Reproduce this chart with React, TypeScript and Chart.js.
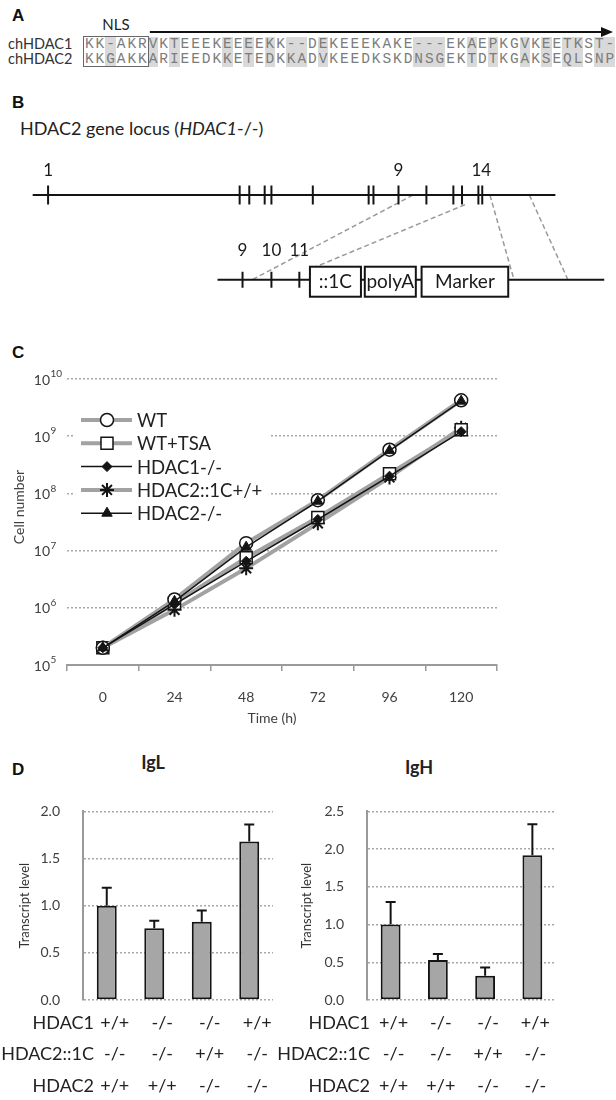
import React, { useEffect, useRef } from 'react';
import { Chart, registerables, PointElement } from 'chart.js';

Chart.register(...registerables);

const SANS = 'Lato, "Open Sans", sans-serif';
const MONO = '"Liberation Mono", "DejaVu Sans Mono", monospace';
const LETTER = '"Liberation Sans", Arial, sans-serif';
Chart.defaults.font.family = SANS;
Chart.defaults.color = '#404040';

const INK = '#141414';
const LINE_GRAY = '#a2a2a2';
const BAR_GRAY = '#a6a6a6';
const GRID_GRAY = '#a8a8a8';

// ---------------- Panel A: sequence alignment ----------------
const seqNames = ['chHDAC1', 'chHDAC2'];
const seqHDAC1 = 'KK-AKRVKTEEEKEEEEKK--DEKEEEKAKE---EKAEPKGVKEETKST-';
const seqHDAC2 = 'KKGAKKARIEEDKKETEDKKADVKEEDKSKDNSGEKTDTKGAKSEQLSNP';
const nlsResidueCount = 6;
const shadedColumns = [2, 6, 8, 13, 15, 17, 19, 20, 22, 31, 32, 33, 36, 38, 41, 43, 45, 46, 48, 49];

// ---------------- Panel B: gene locus schematic ----------------
const LOCUS_LEVEL = 50;
const TARGET_LEVEL = 147;
const locusSpan = [22, 565];
const locusExons = [38, 237, 247, 263, 270, 313, 371, 376, 402, 431, 459, 468, 485, 489];
const locusExonLabels = ['1', '9', '14'];
const locusExonLabelAt = [38, 402, 488];
const targetSpan = [214, 616];
const targetExons = [240, 270, 299];
const targetExonLabels = ['9', '10', '11'];
const cassetteNames = ['::1C', 'polyA', 'Marker'];
const cassetteStarts = [310, 367, 426];
const cassetteEnds = [363, 420, 516];
const homologyStartX = [417, 471, 497, 538];
const homologyStartLevel = [50, 61, 50, 50];
const homologyEndX = [250, 312, 522, 578];
const homologyEndLevel = [147, 134, 147, 147];

// ---------------- Panel C: growth curves ----------------
const timeLabels = ['0', '24', '48', '72', '96', '120'];
const wtCells = [2.0e5, 1.4e6, 1.35e7, 7.6e7, 5.8e8, 4.25e9];
const wtTsaCells = [2.0e5, 1.2e6, 7.5e6, 3.8e7, 2.2e8, 1.3e9];
const hdac1KoCells = [2.0e5, 1.15e6, 6.5e6, 3.5e7, 2.0e8, 1.2e9];
const hdac2OneCCells = [2.0e5, 9.2e5, 4.9e6, 3.0e7, 1.9e8, 1.4e9];
const hdac2KoCells = [2.0e5, 1.3e6, 1.15e7, 7.3e7, 5.6e8, 4.1e9];
const cellTickValues = [1e5, 1e6, 1e7, 1e8, 1e9, 1e10];
const cellTickExponents = ['5', '6', '7', '8', '9', '10'];

// ---------------- Panel D: transcript levels ----------------
const genotypeRowNames = ['HDAC1', 'HDAC2::1C', 'HDAC2'];
const hdac1Genotype = ['+/+', '-/-', '-/-', '+/+'];
const hdac2OneCGenotype = ['-/-', '-/-', '+/+', '-/-'];
const hdac2Genotype = ['+/+', '+/+', '-/-', '-/-'];
const iglLevels = [1.0, 0.76, 0.83, 1.68];
const iglErrors = [0.19, 0.08, 0.12, 0.18];
const ighLevels = [1.0, 0.53, 0.32, 1.92];
const ighErrors = [0.30, 0.08, 0.11, 0.41];

// ---------------- helpers ----------------
function Txt({ x, y, size, children, bold = false, anchor = 'start', family = SANS, color = '#222' }: any) {
  const tx = anchor === 'middle' ? '-50%' : anchor === 'end' ? '-100%' : '0';
  return (
    <div
      style={{
        position: 'absolute', left: x, top: y, transform: `translate(${tx},-50%)`,
        fontSize: size, lineHeight: 1, fontFamily: family, fontWeight: bold ? 700 : 400,
        color, whiteSpace: 'nowrap',
      }}
    >
      {children}
    </div>
  );
}

function ChartCanvas({ left, top, width, height, build }: any) {
  const ref = useRef<HTMLCanvasElement>(null);
  useEffect(() => {
    const chart = new Chart(ref.current as HTMLCanvasElement, build());
    return () => chart.destroy();
  }, []);
  return (
    <canvas
      ref={ref}
      width={width}
      height={height}
      style={{ position: 'absolute', left, top, width, height, display: 'block' }}
    />
  );
}

// ---------------- Panel B config ----------------
function buildLocus(): any {
  const datasets: any[] = [];
  homologyStartX.forEach((sx, i) => {
    datasets.push({
      type: 'line',
      data: [{ x: sx, y: homologyStartLevel[i] }, { x: homologyEndX[i], y: homologyEndLevel[i] }],
      borderColor: '#9a9a9a', borderWidth: 1.5, borderDash: [5, 3], pointRadius: 0, order: 4,
    });
  });
  datasets.push({
    type: 'line',
    data: [{ x: locusSpan[0], y: LOCUS_LEVEL }, { x: locusSpan[1], y: LOCUS_LEVEL }],
    borderColor: INK, borderWidth: 2, pointRadius: 0, order: 3,
  });
  datasets.push({
    type: 'line',
    data: [{ x: targetSpan[0], y: TARGET_LEVEL }, { x: targetSpan[1], y: TARGET_LEVEL }],
    borderColor: INK, borderWidth: 2, pointRadius: 0, order: 3,
  });
  datasets.push({
    type: 'scatter',
    data: locusExons.map((x) => ({ x, y: LOCUS_LEVEL })),
    pointStyle: 'line', pointRotation: 90, pointRadius: 9.5, pointBorderWidth: 2,
    pointBorderColor: INK, borderColor: INK, order: 1,
  });
  datasets.push({
    type: 'scatter',
    data: targetExons.map((x) => ({ x, y: TARGET_LEVEL })),
    pointStyle: 'line', pointRotation: 90, pointRadius: 8, pointBorderWidth: 2,
    pointBorderColor: INK, borderColor: INK, order: 1,
  });
  const decor = {
    id: 'locusDecor',
    afterDatasetsDraw(chart: any) {
      const { ctx, scales } = chart;
      const xs = scales.x, ys = scales.y;
      ctx.save();
      const yc = ys.getPixelForValue(TARGET_LEVEL);
      cassetteNames.forEach((name, i) => {
        const x1 = xs.getPixelForValue(cassetteStarts[i]);
        const x2 = xs.getPixelForValue(cassetteEnds[i]);
        ctx.fillStyle = '#fff';
        ctx.fillRect(x1, yc - 13, x2 - x1, 30);
        ctx.strokeStyle = INK;
        ctx.lineWidth = 2;
        ctx.strokeRect(x1, yc - 13, x2 - x1, 30);
        ctx.fillStyle = '#1a1a1a';
        ctx.font = `19px ${SANS}`;
        ctx.textAlign = 'center';
        ctx.textBaseline = 'middle';
        ctx.fillText(name, (x1 + x2) / 2, yc + 2.5);
      });
      ctx.font = `17px ${SANS}`;
      ctx.fillStyle = '#1a1a1a';
      locusExonLabels.forEach((t, i) => {
        ctx.fillText(t, xs.getPixelForValue(locusExonLabelAt[i]), ys.getPixelForValue(LOCUS_LEVEL) - 25);
      });
      targetExonLabels.forEach((t, i) => {
        ctx.fillText(t, xs.getPixelForValue(targetExons[i]), ys.getPixelForValue(TARGET_LEVEL) - 29);
      });
      ctx.restore();
    },
  };
  return {
    type: 'scatter',
    data: { datasets },
    options: {
      responsive: false, animation: false, events: [],
      layout: { padding: 0 },
      scales: {
        x: { type: 'linear', display: false, min: 0, max: 616 },
        y: { type: 'linear', display: false, min: 0, max: 180, reverse: true },
      },
      plugins: { legend: { display: false }, tooltip: { enabled: false } },
    },
    plugins: [decor],
  };
}

// ---------------- Panel C config ----------------
function buildGrowth(): any {
  const datasets = [
    {
      label: 'WT', data: wtCells, borderColor: LINE_GRAY, borderWidth: 4,
      pointStyle: 'circle', pointRadius: 6.5, pointBackgroundColor: '#fff',
      pointBorderColor: INK, pointBorderWidth: 1.5, order: 2,
    },
    {
      label: 'WT+TSA', data: wtTsaCells, borderColor: LINE_GRAY, borderWidth: 4,
      pointStyle: 'rect', pointRadius: 8.5, pointBackgroundColor: '#fff',
      pointBorderColor: INK, pointBorderWidth: 1.5, order: 2,
    },
    {
      label: 'HDAC1-/-', data: hdac1KoCells, borderColor: INK, borderWidth: 1.5,
      pointStyle: 'rectRot', pointRadius: 5, pointBackgroundColor: INK,
      pointBorderColor: INK, pointBorderWidth: 1, order: 1,
    },
    {
      label: 'HDAC2::1C+/+', data: hdac2OneCCells, borderColor: LINE_GRAY, borderWidth: 4,
      pointStyle: 'star', pointRadius: 7, pointBackgroundColor: INK,
      pointBorderColor: INK, pointBorderWidth: 2, order: 2,
    },
    {
      label: 'HDAC2-/-', data: hdac2KoCells, borderColor: INK, borderWidth: 1.5,
      pointStyle: 'triangle', pointRadius: 6, pointBackgroundColor: INK,
      pointBorderColor: INK, pointBorderWidth: 1, order: 1,
    },
  ];
  const decor = {
    id: 'growthDecor',
    afterDraw(chart: any) {
      const { ctx, chartArea, scales } = chart;
      const ys = scales.y;
      ctx.save();
      ctx.fillStyle = '#404040';
      ctx.textBaseline = 'middle';
      cellTickValues.forEach((v, i) => {
        const py = ys.getPixelForValue(v);
        ctx.font = `14px ${SANS}`;
        ctx.textAlign = 'right';
        ctx.fillText('10', 50, py + 1);
        ctx.font = `10px ${SANS}`;
        ctx.textAlign = 'left';
        ctx.fillText(cellTickExponents[i], 50.5, py - 5);
      });
      ctx.font = `14px ${SANS}`;
      ctx.textAlign = 'center';
      ctx.fillText('Time (h)', (chartArea.left + chartArea.right) / 2 - 10, chartArea.bottom + 53);
      ctx.save();
      ctx.translate(19, (chartArea.top + chartArea.bottom) / 2 - 15);
      ctx.rotate(-Math.PI / 2);
      ctx.fillText('Cell number', 0, 0);
      ctx.restore();
      // legend
      ctx.fillStyle = '#fff';
      ctx.fillRect(75, 45, 195, 120);
      chart.data.datasets.forEach((ds: any, i: number) => {
        const ly = 60 + i * 23.3;
        ctx.strokeStyle = ds.borderColor;
        ctx.lineWidth = ds.borderWidth;
        ctx.setLineDash([]);
        ctx.beginPath();
        ctx.moveTo(81, ly);
        ctx.lineTo(132, ly);
        ctx.stroke();
        const pt: any = new (PointElement as any)({
          x: 107, y: ly,
          options: {
            pointStyle: ds.pointStyle, radius: ds.pointRadius, rotation: 0,
            borderWidth: ds.pointBorderWidth, borderColor: ds.pointBorderColor,
            backgroundColor: ds.pointBackgroundColor,
          },
        });
        pt.draw(ctx, { left: -1e4, top: -1e4, right: 1e4, bottom: 1e4 });
        ctx.fillStyle = '#222';
        ctx.font = `18.5px ${SANS}`;
        ctx.textAlign = 'left';
        ctx.textBaseline = 'middle';
        ctx.fillText(ds.label, 137, ly + 1);
      });
      ctx.restore();
    },
  };
  return {
    type: 'line',
    data: { labels: timeLabels, datasets },
    options: {
      responsive: false, animation: false, events: [],
      layout: { padding: { top: 19, right: 23, left: 0, bottom: 0 } },
      scales: {
        x: {
          type: 'category', offset: true,
          grid: { offset: true, drawOnChartArea: false, drawTicks: true, tickLength: 6, color: '#9a9a9a', lineWidth: 1.5 },
          border: { display: true, color: '#9a9a9a', width: 2 },
          ticks: { font: { size: 14 }, color: '#404040', padding: 18, maxRotation: 0 },
          afterFit: (s: any) => { s.height = 75; },
        },
        y: {
          type: 'logarithmic', min: 1e5, max: 1e10,
          afterBuildTicks: (s: any) => { s.ticks = cellTickValues.map((v) => ({ value: v })); },
          ticks: { display: false },
          grid: {
            drawTicks: false, lineWidth: 1.5,
            color: (c: any) => (c.tick && c.tick.value === 1e5 ? 'rgba(0,0,0,0)' : GRID_GRAY),
          },
          border: { display: false, dash: [2, 2] },
          afterFit: (s: any) => { s.width = 67; },
        },
      },
      plugins: { legend: { display: false }, tooltip: { enabled: false } },
    },
    plugins: [decor],
  };
}

// ---------------- Panel D config ----------------
function buildTranscript(levels: number[], errors: number[], maxY: number, axisWidth: number, titleCenter: number, rightPad: number, nameGap: number, valueShift: number): any {
  const labels = hdac1Genotype.map((g, i) => [g, hdac2OneCGenotype[i], hdac2Genotype[i]]);
  const decor = {
    id: 'transcriptDecor',
    afterDatasetsDraw(chart: any) {
      const { ctx, scales } = chart;
      const ys = scales.y;
      const meta = chart.getDatasetMeta(0);
      ctx.save();
      ctx.strokeStyle = INK;
      ctx.lineWidth = 2;
      meta.data.forEach((bar: any, i: number) => {
        const y0 = ys.getPixelForValue(levels[i]);
        const y1 = ys.getPixelForValue(levels[i] + errors[i]);
        ctx.beginPath();
        ctx.moveTo(bar.x, y0);
        ctx.lineTo(bar.x, y1);
        ctx.moveTo(bar.x - 5, y1);
        ctx.lineTo(bar.x + 5, y1);
        ctx.stroke();
      });
      ctx.restore();
    },
    afterDraw(chart: any) {
      const { ctx, chartArea } = chart;
      const meta = chart.getDatasetMeta(0);
      ctx.save();
      ctx.fillStyle = '#222';
      ctx.font = `18px ${SANS}`;
      ctx.textBaseline = 'middle';
      genotypeRowNames.forEach((name, r) => {
        const py = chartArea.bottom + 23 + r * 31.5;
        ctx.textAlign = 'right';
        ctx.fillText(name, chartArea.left + nameGap, py);
        ctx.textAlign = 'center';
        meta.data.forEach((bar: any, i: number) => {
          ctx.fillText(chart.data.labels[i][r], bar.x + valueShift, py);
        });
      });
      ctx.restore();
    },
  };
  return {
    type: 'bar',
    data: {
      labels,
      datasets: [{
        data: levels, backgroundColor: BAR_GRAY, borderColor: INK, borderWidth: 2,
        borderSkipped: false, categoryPercentage: 1, barPercentage: 0.42,
      }],
    },
    options: {
      responsive: false, animation: false, events: [],
      layout: { padding: { top: 30, right: rightPad, bottom: 100, left: 0 } },
      scales: {
        x: { display: false },
        y: {
          min: 0, max: maxY,
          ticks: { stepSize: 0.5, padding: 23, font: { size: 14 }, color: '#404040', callback: (v: any) => Number(v).toFixed(1) },
          grid: { drawTicks: false, color: GRID_GRAY, lineWidth: 1.5 },
          border: { display: true, color: '#9a9a9a', width: 2, dash: [2, 2] },
          title: { display: true, text: 'Transcript level', font: { size: 13 }, color: '#333', padding: { top: titleCenter - 7.8, bottom: 0 } },
          afterFit: (s: any) => { s.width = axisWidth; },
        },
      },
      plugins: { legend: { display: false }, tooltip: { enabled: false } },
    },
    plugins: [decor],
  };
}

// ---------------- App ----------------
const CELL = 10.64;
const SEQ_X = 84;
const ROW_Y = [44, 59];

export default function App() {
  const arrowStart = SEQ_X + nlsResidueCount * CELL + 2;
  return (
    <div style={{ position: 'absolute', left: 0, top: 0, width: 616, height: 1100, background: '#fff', overflow: 'hidden' }}>
      {/* Panel A */}
      <Txt x={12} y={15} size={17} bold family={LETTER} color="#111">A</Txt>
      <Txt x={116} y={24} size={15} anchor="middle">NLS</Txt>
      <svg width={616} height={70} style={{ position: 'absolute', left: 0, top: 0 }}>
        <line x1={arrowStart} y1={32} x2={603} y2={32} stroke="#111" strokeWidth={2} />
        <polygon points={`613,32 601,27 601,37`} fill="#111" />
      </svg>
      {[seqHDAC1, seqHDAC2].map((seq, r) => (
        <React.Fragment key={r}>
          <Txt x={8} y={ROW_Y[r]} size={14.5} color="#333">{seqNames[r]}</Txt>
          <div style={{ position: 'absolute', left: SEQ_X, top: ROW_Y[r] - 7.5, height: 15, display: 'flex' }}>
            {seq.split('').map((ch, i) => (
              <span
                key={i}
                style={{
                  flex: `0 0 ${CELL}px`, width: CELL, height: 15, lineHeight: '15px', textAlign: 'center',
                  fontFamily: MONO, fontSize: 14.5, color: '#7c7c7c',
                  background: shadedColumns.includes(i) ? '#d9d9d9' : 'transparent',
                }}
              >
                {ch}
              </span>
            ))}
          </div>
        </React.Fragment>
      ))}
      <div style={{ position: 'absolute', left: SEQ_X - 1, top: 36, width: nlsResidueCount * CELL + 2, height: 31, border: '1px solid #666', boxSizing: 'border-box' }} />

      {/* Panel B */}
      <Txt x={12} y={102} size={17} bold family={LETTER} color="#111">B</Txt>
      <Txt x={20} y={128} size={18}>HDAC2 gene locus (<i>HDAC1</i>-/-)</Txt>
      <ChartCanvas left={0} top={140} width={616} height={180} build={buildLocus} />

      {/* Panel C */}
      <Txt x={12} y={352} size={17} bold family={LETTER} color="#111">C</Txt>
      <ChartCanvas left={0} top={360} width={520} height={380} build={buildGrowth} />

      {/* Panel D */}
      <Txt x={12} y={769} size={17} bold family={LETTER} color="#111">D</Txt>
      <Txt x={153} y={762} size={18} bold anchor="middle">IgL</Txt>
      <Txt x={419} y={767} size={18} bold anchor="middle">IgH</Txt>
      <ChartCanvas left={0} top={780} width={290} height={320}
        build={() => buildTranscript(iglLevels, iglErrors, 2.0, 83, 25, 17, 11, 8)} />
      <ChartCanvas left={278} top={780} width={338} height={320}
        build={() => buildTranscript(ighLevels, ighErrors, 2.5, 89, 29, 60, 3, 3)} />
    </div>
  );
}
